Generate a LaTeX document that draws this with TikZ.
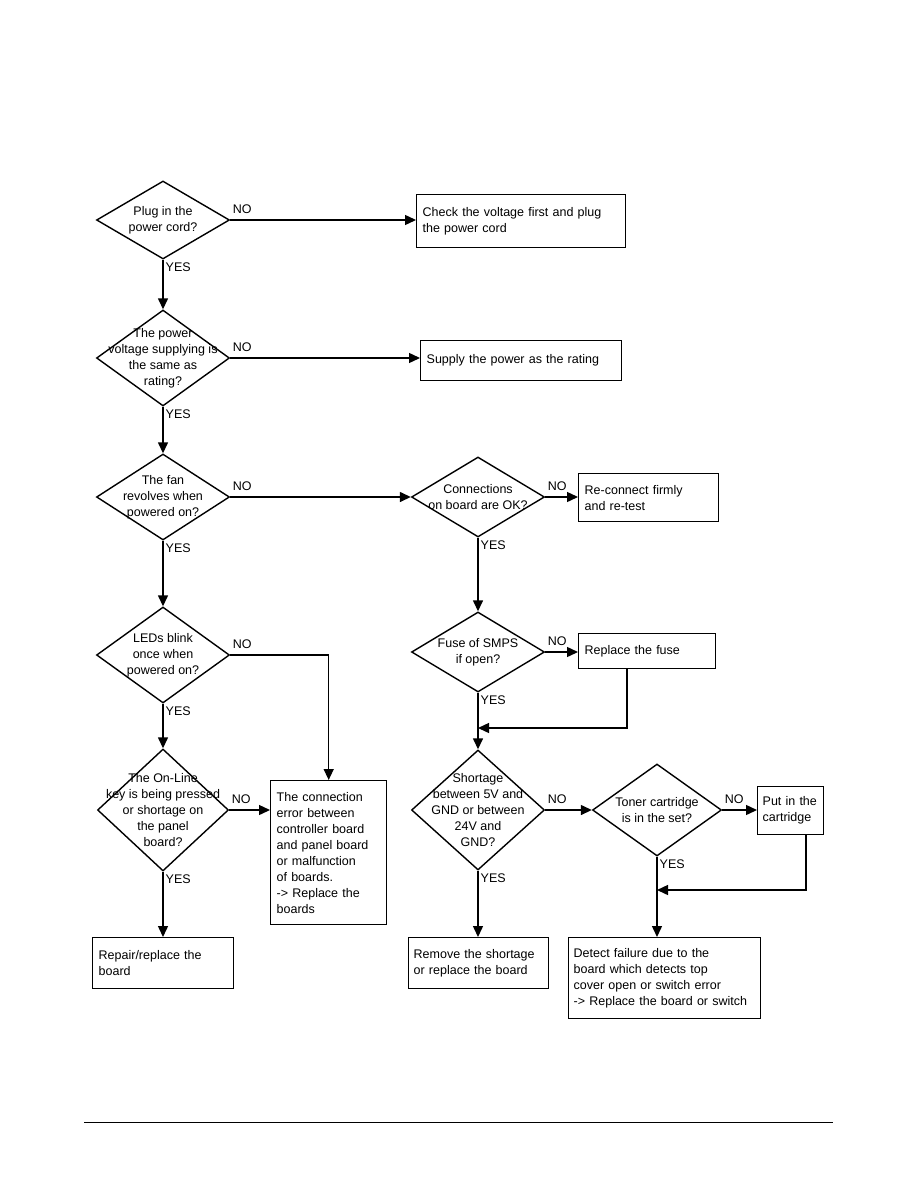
\documentclass[tikz,border=0pt]{standalone}
\usepackage{fontspec}
\setmainfont{Liberation Sans}
\usetikzlibrary{shapes.geometric,arrows.meta}

\tikzset{
  decision/.style 2 args={diamond, draw, minimum width=#1, minimum height=#2, inner sep=0pt},
  qtext/.style={align=center, inner sep=0pt},
  action/.style={rectangle, draw, anchor=north west, align=left, inner xsep=6pt, inner ysep=0pt},
  flow/.style={-{Triangle[length=11pt,width=10pt]}},
  ans/.style={inner sep=2pt}
}

\begin{document}
\begin{tikzpicture}[x=1pt,y=-1pt,line width=1.4pt,font=\fontsize{12.5}{16}\selectfont]
  \useasboundingbox (0,0) rectangle (918,1188);

  % questions
  \node[decision={133}{78}, label={[qtext]center:{Plug in the\\power cord?}}] (plug) at (163,220) {};
  \node[decision={133}{96}, label={[qtext]center:{The power\\voltage supplying is\\the same as\\rating?}}] (volt) at (163,358) {};
  \node[decision={133}{86}, label={[qtext]center:{The fan\\revolves when\\powered on?}}] (fan) at (163,497) {};
  \node[decision={133}{96}, label={[qtext]center:{LEDs blink\\once when\\powered on?}}] (leds) at (163,655) {};
  \node[decision={131}{122}, label={[qtext]center:{The On-Line\\key is being pressed\\or shortage on\\the panel\\board?}}] (key) at (163,810) {};
  \node[decision={133}{80}, label={[qtext]center:{Connections\\on board are OK?}}] (conn) at (478,497) {};
  \node[decision={133}{80}, label={[qtext]center:{Fuse of SMPS\\if open?}}] (fuse) at (478,652) {};
  \node[decision={133}{120}, label={[qtext]center:{Shortage\\between 5V and\\GND or between\\24V and\\GND?}}] (short) at (478,810) {};
  \node[decision={129}{92}, label={[qtext]center:{Toner cartridge\\is in the set?}}] (toner) at (657,810) {};

  % actions
  \node[action, text width=197pt, minimum height=53pt] (chk) at (416,194) {Check the voltage first and plug\\the power cord};
  \node[action, text width=189pt, minimum height=40pt] (sup) at (420,340) {Supply the power as the rating};
  \node[action, text width=128pt, minimum height=48pt] (recon) at (578,473) {Re-connect firmly\\and re-test};
  \node[action, text width=125pt, minimum height=35pt] (fix) at (578,633) {Replace the fuse};
  \node[action, text width=56pt, minimum height=48pt, inner xsep=5pt] (putin) at (757,786) {Put in the\\cartridge};
  \node[action, text width=104pt, minimum height=144pt] (err) at (270,780) {The connection\\error between\\controller board\\and panel board\\or malfunction\\of boards.\\-> Replace the\\boards};
  \node[action, text width=129pt, minimum height=51pt] (rep) at (92,937) {Repair/replace the\\board};
  \node[action, text width=130pt, minimum height=51pt, inner xsep=5pt] (rem) at (408,937) {Remove the shortage\\or replace the board};
  \node[action, text width=182pt, minimum height=81pt, inner xsep=5pt] (det) at (568,937) {Detect failure due to the\\board which detects top\\cover open or switch error\\-> Replace the board or switch};

  \coordinate (tap1) at (627,728);
  \coordinate (tap2) at (806,890);

  % connectors
  \draw[flow] (plug.east) -- (chk.west |- plug.east);
  \draw[flow] (plug.south) -- (volt.north);
  \draw[flow] (volt.east) -- (sup.west |- volt.east);
  \draw[flow] (volt.south) -- (fan.north);
  \draw[flow] (fan.east) -- (conn.west);
  \draw[flow] (fan.south) -- (leds.north);
  \draw[flow] (leds.east) -| (err.north);
  \draw[flow] (leds.south) -- (key.north);
  \draw[flow] (key.east) -- (err.west |- key.east);
  \draw[flow] (key.south) -- (rep.north -| key.south);
  \draw[flow] (conn.east) -- (recon.west |- conn.east);
  \draw[flow] (conn.south) -- (fuse.north);
  \draw[flow] (fuse.east) -- (fix.west |- fuse.east);
  \draw[flow] (fix.south -| tap1) -- (tap1) -- (tap1 -| fuse.south);
  \draw[flow] (fuse.south) -- (short.north);
  \draw[flow] (short.east) -- (toner.west);
  \draw[flow] (short.south) -- (rem.north -| short.south);
  \draw[flow] (toner.east) -- (putin.west |- toner.east);
  \draw[flow] (putin.south -| tap2) -- (tap2) -- (tap2 -| toner.south);
  \draw[flow] (toner.south) -- (det.north -| toner.south);

  \foreach \d in {plug,volt,fan,leds,key,conn,fuse,short,toner}{
    \node[ans, above right, yshift=4pt] (no-\d) at (\d.east) {NO};
    \node[ans, anchor=north west] (yes-\d) at (\d.south) {YES};
  }

  \draw[line width=1pt] (84,1122) -- (833,1122);
\end{tikzpicture}
\end{document}
